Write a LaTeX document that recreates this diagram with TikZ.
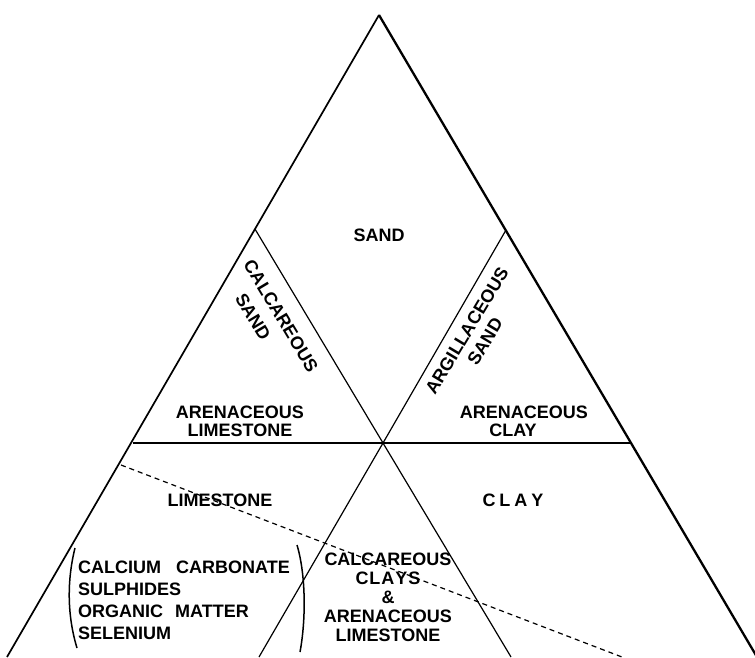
\documentclass[tikz,border=0pt]{standalone}
\usepackage{fontspec}
\setmainfont{Liberation Sans}
\usetikzlibrary{positioning,calc}

\begin{document}
\begin{tikzpicture}[x=1pt, y=-1pt,
    outerline/.style={line width=1.7pt},
    innerline/.style={line width=1.2pt},
    lbl/.style={font=\fontsize{18}{19}\selectfont\bfseries, inner sep=0pt}]
    \useasboundingbox (0,0) rectangle (755,657);

    % --- Corner points ---
    \coordinate (apex) at (379,15);
    \coordinate (bl) at (7,657);
    \coordinate (br) at (757,657);
    \coordinate (lm) at (255,229);
    \coordinate (rm) at (506,230);
    \coordinate (ctr) at (383,443);
    \coordinate (hl) at (133,443);
    \coordinate (hr) at (631,443);
    \coordinate (lb) at (511,657);
    \coordinate (rb) at (259,657);
    \coordinate (dstart) at (121,465);
    \coordinate (dend) at (622,657);

    % Outer sides
    \draw[outerline] (bl) -- (apex);
    \draw[outerline, line width=2.3pt] (apex) -- (br);

    % Dividing lines
    \draw[innerline] (lm) -- (ctr) -- (lb);
    \draw[innerline] (rm) -- (ctr) -- (rb);
    \draw[innerline] (hl) -- (hr);

    % Dashed line
    \draw[line width=1.2pt, dash pattern=on 5pt off 4pt] (dstart) -- (dend);

    % --- Labels ---
    \node[lbl] (sand) at (379,235) {SAND};
    \node[lbl, rotate=-59] (calc1) at (281,316) {CALCAREOUS};
    \node[lbl, rotate=-59] (calc2) at (253,317) {SAND};
    \node[lbl, rotate=59, align=center, font=\fontsize{18}{21}\selectfont\bfseries] (argil) at (476,336) {ARGILLACEOUS\\SAND};
    \node[lbl, align=center, font=\fontsize{18}{18}\selectfont\bfseries] (arlime) at (240,421) {ARENACEOUS\\LIMESTONE};
    \node[lbl] (arclay1) at (524,412) {ARENACEOUS};
    \node[lbl] (arclay2) at (513,430) {CLAY};
    \node[lbl] (lime) at (220,500) {LIMESTONE};
    \node[lbl] (clay) at (513,500) {C\kern4pt L\kern4pt A\kern4pt Y};
    \node[lbl, align=center, font=\fontsize{18}{19}\selectfont\bfseries] (mixed) at (388,597)
        {CALCAREOUS\\C\kern1pt L\kern1pt A\kern1pt Y\kern1pt S\\\&\\ARENACEOUS\\LIMESTONE};
    \node[lbl, anchor=west, align=left, font=\fontsize{18}{22}\selectfont\bfseries] (minerals) at (78,600)
        {CALCIUM\hspace{10pt} CARBONATE\\SULPHIDES\\ORGANIC\hspace{7pt} MATTER\\SELENIUM};

    % Brackets round the list
    \draw[line width=1.5pt] (75,548) .. controls (67,580) and (67,615) .. (77,648);
    \draw[line width=1.5pt] (297,545) .. controls (306,575) and (306,620) .. (300,652);
\end{tikzpicture}
\end{document}
